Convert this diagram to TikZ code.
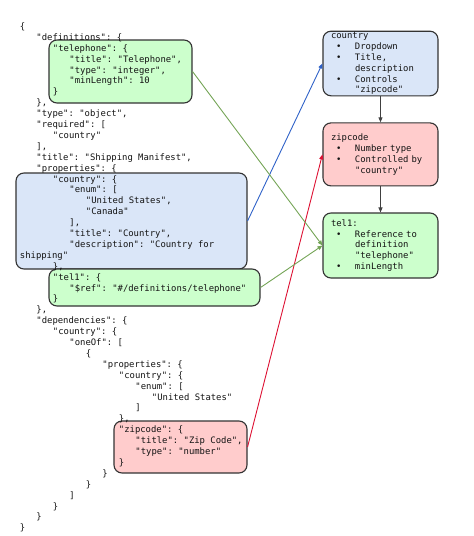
\documentclass[tikz,border=0pt]{standalone}
\usepackage{fontspec}
\setmonofont{DejaVu Sans Mono}
\usetikzlibrary{arrows.meta,positioning}
\definecolor{fillgreen}{HTML}{CCFFCC}
\definecolor{fillblue}{HTML}{DAE6F8}
\definecolor{fillred}{HTML}{FFCCCC}
\definecolor{lnblue}{HTML}{2F62C8}
\definecolor{lngreen}{HTML}{74A456}
\definecolor{lnred}{HTML}{DD1133}
\tikzstyle{code} = [font=\ttfamily\fontsize{8.9}{10.9}\selectfont, text=black!92,
    inner sep=0pt, text height=6.6pt, text depth=1.8pt, anchor=west]
\tikzstyle{hl} = [rectangle, draw=black!80, rounded corners=8pt, line width=1.1pt,
    inner sep=0pt]
\tikzstyle{note} = [rectangle, draw=black!80, rounded corners=8pt, line width=1.1pt,
    text width=99pt, align=left, minimum height=63pt, inner xsep=8pt, inner ysep=1pt,
    font=\ttfamily\fontsize{8.9}{10.9}\selectfont, text=black!92]
\newcommand{\bul}{\makebox[24pt][l]{\hspace{5pt}•}}
\newcommand{\hang}{\hspace*{24pt}}

\begin{document}
\begin{tikzpicture}[->,>={Triangle[length=5pt,width=4pt]},x=1pt,y=-1pt,
                    line width=0.9pt]
  \useasboundingbox (0,0) rectangle (474,536);

  % highlighted parts of the schema
  \node[hl,fill=fillgreen,minimum width=143pt,minimum height=63pt] (teldef) at (120.5,71.5) {};
  \node[hl,fill=fillblue,minimum width=231pt,minimum height=96pt]  (cprop)  at (131.5,221) {};
  \node[hl,fill=fillgreen,minimum width=211pt,minimum height=37pt] (telprop) at (154.5,287.5) {};
  \node[hl,fill=fillred,minimum width=133pt,minimum height=52pt]   (zprop)  at (180.5,447) {};

  % the schema itself
  \foreach \lvl/\txt [count=\n] in {
      0/{\{},
      1/{"definitions": \{},
      2/{"telephone": \{},
      3/{"title": "Telephone",},
      3/{"type": "integer",},
      3/{"minLength": 10},
      2/{\}},
      1/{\},},
      1/{"type": "object",},
      1/{"required": [},
      2/{"country"},
      1/{],},
      1/{"title": "Shipping Manifest",},
      1/{"properties": \{},
      2/{"country": \{},
      3/{"enum": [},
      4/{"United States",},
      4/{"Canada"},
      3/{],},
      3/{"title": "Country",},
      3/{"description": "Country for},
      0/{shipping"},
      2/{\},},
      2/{"tel1": \{},
      3/{"\$ref": "\#/definitions/telephone"},
      2/{\}},
      1/{\},},
      1/{"dependencies": \{},
      2/{"country": \{},
      3/{"oneOf": [},
      4/{\{},
      5/{"properties": \{},
      6/{"country": \{},
      7/{"enum": [},
      8/{"United States"},
      7/{]},
      6/{\},},
      6/{"zipcode": \{},
      7/{"title": "Zip Code",},
      7/{"type": "number"},
      6/{\}},
      5/{\}},
      4/{\}},
      3/{]},
      2/{\}},
      1/{\}},
      0/{\}}}
    \node[code] (line\n) at (19.5+16.5*\lvl, 16.1+10.9*\n) {\txt};

  % what the form makes of it
  \node[note,fill=fillblue,minimum width=115pt] (ctry) at (380.5,63.5)
    {country\\ \bul Dropdown\\ \bul Title,\\ \hang description\\ \bul Controls\\ \hang "zipcode"};
  \node[note,fill=fillred] (zip) [below=26pt of ctry]
    {zipcode\\ \bul Number type\\ \bul Controlled by\\ \hang "country"};
  \node[note,fill=fillgreen,minimum height=65pt] (tel) [below=26pt of zip]
    {tel1:\\ \bul Reference to\\ \hang definition\\ \hang "telephone"\\ \bul minLength};

  \path (cprop.east)   edge[lnblue]  (ctry.west)
        (zprop.east)   edge[lnred]   (zip.west)
        (teldef.east)  edge[lngreen] (tel.west)
        (telprop.east) edge[lngreen] (tel.west)
        (ctry)         edge[black!75] (zip)
        (zip)          edge[black!75] (tel);
\end{tikzpicture}
\end{document}
